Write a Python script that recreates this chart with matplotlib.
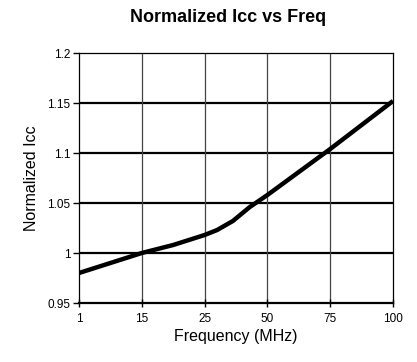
import numpy as np
import matplotlib
matplotlib.use("Agg")
import matplotlib.pyplot as plt

# # # # # data # # # # #

# tick labels on the frequency axis (equally spaced categories)
freq_labels = ["1", "15", "25", "50", "75", "100"]

# curve points: category position and normalized Icc
curve_pos = [0, 0.5, 1, 1.5, 2, 2.2, 2.45, 2.72, 3, 3.5, 4, 4.5, 5]
curve_icc = [0.980, 0.990, 1.000, 1.008, 1.018, 1.023, 1.032, 1.046, 1.058, 1.081, 1.104, 1.128, 1.152]

y_ticks = [0.95, 1.0, 1.05, 1.1, 1.15, 1.2]
y_labels = ["0.95", "1", "1.05", "1.1", "1.15", "1.2"]

plt.rcParams['font.family'] = ['Liberation Sans', 'DejaVu Sans']

# initiate figure
fig = plt.figure(figsize=(4.17, 3.62), dpi=100)
ax = fig.add_axes([79/417, 1-303/362, (393-79)/417, (303-53)/362])

# grid lines: horizontal thick, vertical thin
for y in y_ticks[1:-1]:
	ax.axhline(y, color='black', linewidth=1.6, zorder=1)
for x in range(1, len(freq_labels)-1):
	ax.axvline(x, color='#444444', linewidth=0.9, zorder=1)

# plot curve
ax.plot(curve_pos, curve_icc, color='black', linewidth=3.2, solid_capstyle='butt', zorder=3)

ax.set_xlim(0, len(freq_labels)-1)
ax.set_ylim(0.95, 1.2)
ax.set_xticks(range(len(freq_labels)))
ax.set_xticklabels(freq_labels)
ax.set_yticks(y_ticks)
ax.set_yticklabels(y_labels)

for side in ['top', 'right', 'left']:
	ax.spines[side].set_linewidth(0.9)
ax.spines['bottom'].set_linewidth(1.6)

ax.tick_params(axis='x', labelsize=8.5, length=6, width=1, direction='inout', pad=4)
ax.tick_params(axis='y', labelsize=8.5, length=4, width=1, direction='out', pad=2)

ax.set_xlabel('Frequency (MHz)', fontsize=11.5, labelpad=3)
ax.set_ylabel('Normalized Icc', fontsize=11.5, labelpad=6)
fig.text(228/417, 1-17/362, 'Normalized Icc vs Freq', fontsize=13, fontweight='bold',
	ha='center', va='center')

fig.savefig('out.png', dpi=100)
